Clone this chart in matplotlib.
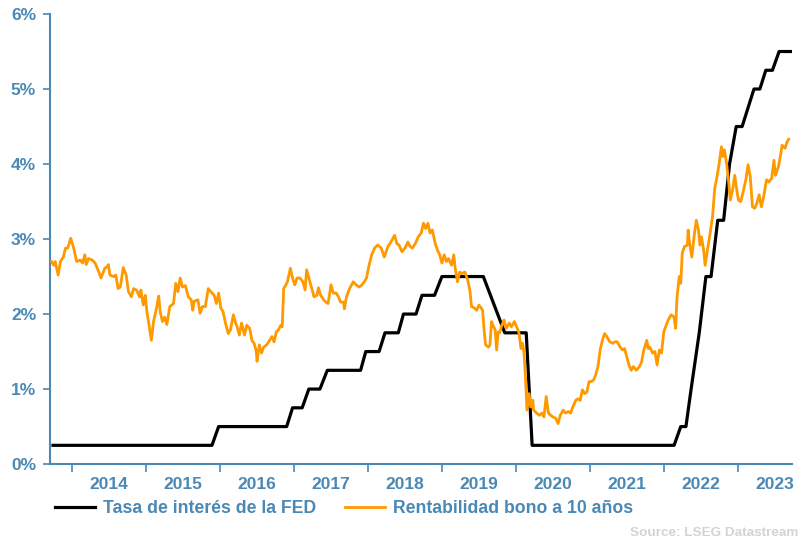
import matplotlib.pyplot as plt
from matplotlib.ticker import FixedLocator, NullFormatter, FuncFormatter

# Fed funds upper bound (vertices of the drawn line), decimal years
fed_t = [2013.74, 2015.89, 2015.98, 2016.90, 2016.98, 2017.11, 2017.20, 2017.35, 2017.45,
         2017.90, 2017.97, 2018.15, 2018.23, 2018.41, 2018.48, 2018.65, 2018.73, 2018.90,
         2019.00, 2019.56, 2019.85, 2020.14, 2020.22, 2022.14, 2022.23, 2022.30, 2022.37,
         2022.48, 2022.57, 2022.64, 2022.73, 2022.81, 2022.89, 2022.98, 2023.06, 2023.14,
         2023.22, 2023.30, 2023.38, 2023.47, 2023.56, 2023.72]
fed_v = [0.25, 0.25, 0.50, 0.50, 0.75, 0.75, 1.00, 1.00, 1.25,
         1.25, 1.50, 1.50, 1.75, 1.75, 2.00, 2.00, 2.25, 2.25,
         2.50, 2.50, 1.75, 1.75, 0.25, 0.25, 0.50, 0.50, 1.00,
         1.75, 2.50, 2.50, 3.25, 3.25, 4.00, 4.50, 4.50, 4.75,
         5.00, 5.00, 5.25, 5.25, 5.50, 5.50]

# US 10 year yield
yield_t = [2013.72, 2013.75, 2013.77, 2013.81, 2013.84, 2013.88, 2013.91, 2013.94, 2013.98,
           2014.02, 2014.06, 2014.11, 2014.14, 2014.17, 2014.19, 2014.22, 2014.27, 2014.31,
           2014.36, 2014.39, 2014.44, 2014.47, 2014.49, 2014.51, 2014.56, 2014.59, 2014.62,
           2014.65, 2014.69, 2014.73, 2014.76, 2014.80, 2014.83, 2014.87, 2014.91, 2014.93,
           2014.96, 2014.99, 2015.01, 2015.04, 2015.07, 2015.10, 2015.14, 2015.17, 2015.19,
           2015.22, 2015.25, 2015.28, 2015.32, 2015.37, 2015.40, 2015.43, 2015.46, 2015.49,
           2015.53, 2015.57, 2015.61, 2015.63, 2015.65, 2015.70, 2015.73, 2015.76, 2015.80,
           2015.84, 2015.89, 2015.92, 2015.95, 2015.98, 2016.01, 2016.04, 2016.08, 2016.11,
           2016.14, 2016.18, 2016.21, 2016.23, 2016.26, 2016.29, 2016.33, 2016.36, 2016.40,
           2016.43, 2016.46, 2016.49, 2016.50, 2016.53, 2016.56, 2016.59, 2016.63, 2016.67,
           2016.70, 2016.73, 2016.76, 2016.79, 2016.82, 2016.84, 2016.86, 2016.89, 2016.91,
           2016.95, 2016.98, 2017.01, 2017.04, 2017.08, 2017.12, 2017.15, 2017.17, 2017.21,
           2017.24, 2017.27, 2017.31, 2017.33, 2017.36, 2017.40, 2017.43, 2017.46, 2017.50,
           2017.53, 2017.57, 2017.60, 2017.63, 2017.67, 2017.68, 2017.71, 2017.75, 2017.78,
           2017.80, 2017.84, 2017.88, 2017.91, 2017.95, 2017.98, 2018.01, 2018.05, 2018.09,
           2018.13, 2018.18, 2018.22, 2018.27, 2018.31, 2018.36, 2018.39, 2018.42, 2018.46,
           2018.50, 2018.54, 2018.57, 2018.60, 2018.64, 2018.68, 2018.72, 2018.75, 2018.78,
           2018.81, 2018.84, 2018.87, 2018.91, 2018.94, 2018.97, 2019.00, 2019.03, 2019.06,
           2019.09, 2019.13, 2019.16, 2019.18, 2019.21, 2019.24, 2019.27, 2019.31, 2019.35,
           2019.38, 2019.40, 2019.44, 2019.47, 2019.50, 2019.53, 2019.55, 2019.57, 2019.59,
           2019.63, 2019.65, 2019.67, 2019.69, 2019.72, 2019.74, 2019.76, 2019.78, 2019.81,
           2019.84, 2019.87, 2019.91, 2019.94, 2019.98, 2020.01, 2020.04, 2020.07, 2020.09,
           2020.11, 2020.13, 2020.15, 2020.18, 2020.20, 2020.23, 2020.24, 2020.28, 2020.32,
           2020.35, 2020.38, 2020.41, 2020.44, 2020.47, 2020.50, 2020.54, 2020.57, 2020.60,
           2020.64, 2020.67, 2020.71, 2020.74, 2020.77, 2020.81, 2020.84, 2020.87, 2020.90,
           2020.93, 2020.96, 2020.99, 2021.02, 2021.05, 2021.08, 2021.11, 2021.14, 2021.17,
           2021.20, 2021.23, 2021.27, 2021.31, 2021.34, 2021.37, 2021.41, 2021.44, 2021.47,
           2021.50, 2021.53, 2021.56, 2021.59, 2021.63, 2021.67, 2021.70, 2021.73, 2021.77,
           2021.79, 2021.81, 2021.85, 2021.88, 2021.91, 2021.94, 2021.97, 2022.00, 2022.01,
           2022.06, 2022.10, 2022.14, 2022.16, 2022.18, 2022.21, 2022.23, 2022.25, 2022.28,
           2022.32, 2022.33, 2022.35, 2022.38, 2022.41, 2022.44, 2022.47, 2022.49, 2022.51,
           2022.54, 2022.56, 2022.59, 2022.62, 2022.66, 2022.69, 2022.72, 2022.75, 2022.78,
           2022.80, 2022.82, 2022.85, 2022.88, 2022.90, 2022.93, 2022.96, 2022.98, 2023.01,
           2023.04, 2023.07, 2023.11, 2023.14, 2023.17, 2023.20, 2023.23, 2023.26, 2023.29,
           2023.32, 2023.35, 2023.39, 2023.42, 2023.46, 2023.49, 2023.51, 2023.55, 2023.58,
           2023.60, 2023.64, 2023.67, 2023.69]
yield_v = [2.70, 2.65, 2.70, 2.52, 2.70, 2.76, 2.88, 2.88, 3.01,
           2.88, 2.70, 2.72, 2.68, 2.79, 2.66, 2.74, 2.72, 2.68,
           2.56, 2.48, 2.61, 2.63, 2.66, 2.52, 2.50, 2.52, 2.34,
           2.36, 2.62, 2.52, 2.30, 2.23, 2.34, 2.32, 2.23, 2.32,
           2.12, 2.25, 2.03, 1.85, 1.65, 1.90, 2.08, 2.24, 2.03,
           1.90, 1.96, 1.86, 2.10, 2.14, 2.41, 2.30, 2.48, 2.36,
           2.38, 2.23, 2.19, 2.05, 2.17, 2.19, 2.01, 2.10, 2.10,
           2.34, 2.28, 2.25, 2.14, 2.28, 2.08, 2.03, 1.85, 1.74,
           1.79, 1.99, 1.88, 1.83, 1.72, 1.88, 1.72, 1.85, 1.81,
           1.65, 1.61, 1.50, 1.37, 1.59, 1.48, 1.56, 1.59, 1.65,
           1.70, 1.63, 1.76, 1.79, 1.85, 1.83, 2.34, 2.39, 2.43,
           2.61, 2.48, 2.39, 2.48, 2.48, 2.43, 2.32, 2.59, 2.45,
           2.34, 2.23, 2.25, 2.35, 2.25, 2.19, 2.16, 2.14, 2.39,
           2.28, 2.28, 2.23, 2.16, 2.16, 2.07, 2.23, 2.34, 2.39,
           2.43, 2.39, 2.36, 2.38, 2.43, 2.48, 2.63, 2.79, 2.88,
           2.92, 2.88, 2.76, 2.90, 2.96, 3.05, 2.94, 2.92, 2.83,
           2.88, 2.96, 2.90, 2.88, 2.94, 3.03, 3.08, 3.21, 3.14,
           3.21, 3.08, 3.12, 2.94, 2.85, 2.79, 2.68, 2.79, 2.70,
           2.74, 2.65, 2.79, 2.61, 2.43, 2.56, 2.54, 2.56, 2.45,
           2.30, 2.10, 2.08, 2.05, 2.12, 2.08, 2.05, 1.79, 1.59,
           1.56, 1.59, 1.90, 1.85, 1.79, 1.52, 1.76, 1.75, 1.85,
           1.92, 1.81, 1.88, 1.83, 1.90, 1.83, 1.76, 1.54, 1.61,
           1.48, 1.16, 0.72, 0.94, 0.76, 0.85, 0.72, 0.68, 0.65,
           0.68, 0.63, 0.90, 0.68, 0.65, 0.63, 0.61, 0.54, 0.65,
           0.72, 0.68, 0.70, 0.68, 0.76, 0.85, 0.87, 0.85, 0.99,
           0.94, 0.96, 1.10, 1.10, 1.12, 1.19, 1.30, 1.52, 1.65,
           1.74, 1.70, 1.63, 1.61, 1.63, 1.63, 1.56, 1.52, 1.54,
           1.43, 1.32, 1.25, 1.30, 1.25, 1.30, 1.36, 1.52, 1.65,
           1.54, 1.56, 1.48, 1.50, 1.32, 1.52, 1.48, 1.76, 1.79,
           1.92, 1.99, 1.96, 1.81, 2.23, 2.50, 2.41, 2.81, 2.90,
           2.92, 3.12, 2.94, 2.76, 3.03, 3.25, 3.12, 2.92, 3.03,
           2.85, 2.65, 2.85, 3.03, 3.30, 3.68, 3.83, 4.01, 4.23,
           4.10, 4.19, 4.01, 3.74, 3.52, 3.65, 3.85, 3.70, 3.52,
           3.50, 3.61, 3.79, 3.99, 3.83, 3.43, 3.41, 3.48, 3.59,
           3.43, 3.56, 3.79, 3.76, 3.81, 4.05, 3.85, 3.96, 4.12,
           4.25, 4.21, 4.30, 4.33]

years = list(range(2014, 2024))
y_ticks = [0, 1, 2, 3, 4, 5, 6]

blue = '#4A88B5'
plt.rcParams['font.family'] = ['Liberation Sans', 'DejaVu Sans']

fig = plt.figure(figsize=(8.07, 5.39), dpi=100)
ax = fig.add_axes([0.062, 0.139, 0.919, 0.835])

ax.plot(fed_t, fed_v, color='black', linewidth=2.3, label='Tasa de interés de la FED', zorder=2)
ax.plot(yield_t, yield_v, color='#FF9900', linewidth=2.0, label='Rentabilidad bono a 10 años', zorder=3)

ax.set_xlim(2013.70, 2023.73)
ax.set_ylim(0, 6)

# year ticks at Jan 1, labels centred between them
ax.xaxis.set_major_locator(FixedLocator(years))
ax.xaxis.set_major_formatter(NullFormatter())
ax.xaxis.set_minor_locator(FixedLocator([y + 0.5 for y in years]))
ax.xaxis.set_minor_formatter(FuncFormatter(lambda v, p: str(int(v))))
ax.tick_params(axis='x', which='major', length=6, width=1.2, color=blue, direction='out')
ax.tick_params(axis='x', which='minor', length=0, pad=9, labelsize=12.5, labelcolor=blue)
for lbl in ax.get_xticklabels(minor=True):
    lbl.set_fontweight('bold')

ax.set_yticks(y_ticks)
ax.yaxis.set_major_formatter(FuncFormatter(lambda v, p: f'{int(v)}%'))
ax.tick_params(axis='y', length=5, width=1.2, color=blue, labelsize=12.5, labelcolor=blue, pad=5)
for lbl in ax.get_yticklabels():
    lbl.set_fontweight('bold')

for side in ['top', 'right']:
    ax.spines[side].set_visible(False)
for side in ['left', 'bottom']:
    ax.spines[side].set_color(blue)
    ax.spines[side].set_linewidth(1.5)

fig.legend(loc='center left', bbox_to_anchor=(0.068, 0.056), ncol=2, frameon=False,
           handlelength=2.3, handletextpad=0.45, columnspacing=1.6, borderpad=0, borderaxespad=0,
           prop={'size': 12.7, 'weight': 'bold'}, labelcolor=blue)

fig.text(0.989, 0.0, 'Source: LSEG Datastream', ha='right', va='bottom',
         fontsize=9.7, fontweight='bold', color='#D3D3D3')

plt.savefig('out.png', dpi=100)
